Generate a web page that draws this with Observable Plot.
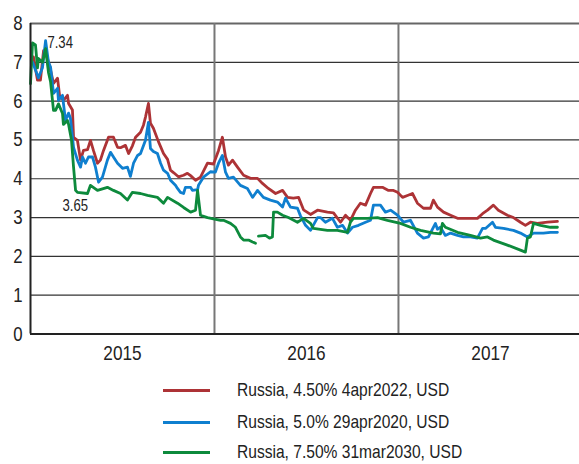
<!DOCTYPE html>
<html><head><meta charset="utf-8">
<script src="https://cdn.jsdelivr.net/npm/d3@7"></script>
<script src="https://cdn.jsdelivr.net/npm/@observablehq/plot@0.6"></script>
<style>
body{margin:0;background:#fff;font-family:"Liberation Sans",Arial,sans-serif;}
#wrap{position:relative;width:579px;height:464px;overflow:hidden;}
.row{position:absolute;left:163px;height:24px;display:flex;align-items:center;font-size:19px;color:#222;white-space:nowrap;}
.sw{width:47px;height:3px;margin-right:27px;flex:none;}
.lt{display:inline-block;transform:scaleX(0.82);transform-origin:0 50%;}
</style></head><body><div id="wrap"><div id="chart"></div></div>
<script>
// Red: Russia, 4.50% 4apr2022, USD
const redYears=[2015.016,2015.038,2015.054,2015.071,2015.092,2015.109,2015.125,2015.147,2015.158,2015.179,2015.201,2015.207,2015.228,2015.234,2015.255,2015.272,2015.288,2015.310,2015.326,2015.342,2015.364,2015.380,2015.397,2015.424,2015.451,2015.473,2015.489,2015.516,2015.533,2015.554,2015.571,2015.598,2015.614,2015.625,2015.641,2015.652,2015.668,2015.696,2015.723,2015.745,2015.761,2015.777,2015.804,2015.832,2015.853,2015.870,2015.897,2015.924,2015.962,2015.995,2016.022,2016.043,2016.060,2016.076,2016.098,2016.125,2016.158,2016.196,2016.234,2016.261,2016.293,2016.332,2016.370,2016.397,2016.429,2016.457,2016.484,2016.522,2016.560,2016.614,2016.647,2016.685,2016.712,2016.739,2016.766,2016.793,2016.821,2016.848,2016.864,2016.913,2016.946,2016.973,2016.995,2017.022,2017.049,2017.076,2017.103,2017.136,2017.174,2017.190,2017.212,2017.245,2017.283,2017.321,2017.353,2017.391,2017.429,2017.457,2017.484,2017.516,2017.543,2017.592,2017.625,2017.663,2017.690,2017.717,2017.755,2017.810,2017.864];
const redValues=[7.14,6.54,6.54,7.30,7.10,6.80,6.46,6.59,6.15,6.02,6.15,5.94,5.77,5.07,4.99,4.48,4.73,4.75,4.99,4.73,4.40,4.48,4.73,5.07,5.07,4.81,4.80,4.86,4.65,4.85,5.07,5.20,5.38,5.59,5.94,5.43,5.30,4.95,4.65,4.50,4.22,4.16,4.05,4.09,4.14,4.08,3.96,4.04,4.40,4.38,4.73,5.07,4.56,4.35,4.48,4.30,4.09,4.01,4.01,3.88,3.75,3.62,3.70,3.52,3.50,3.52,3.20,3.08,3.19,3.14,3.12,2.88,3.06,2.93,3.19,3.37,3.32,3.62,3.78,3.78,3.70,3.70,3.65,3.52,3.57,3.62,3.37,3.24,3.24,3.45,3.27,3.14,3.06,2.98,2.98,2.98,2.98,3.10,3.19,3.32,3.19,3.06,3.00,2.88,2.80,2.88,2.85,2.88,2.90];
// Blue: Russia, 5.0% 29apr2020, USD
const blueYears=[2015.011,2015.043,2015.065,2015.082,2015.098,2015.109,2015.125,2015.147,2015.152,2015.174,2015.190,2015.207,2015.217,2015.234,2015.255,2015.272,2015.283,2015.299,2015.315,2015.337,2015.353,2015.370,2015.391,2015.418,2015.435,2015.451,2015.473,2015.500,2015.527,2015.543,2015.560,2015.582,2015.598,2015.625,2015.641,2015.652,2015.668,2015.690,2015.707,2015.723,2015.745,2015.761,2015.788,2015.799,2015.815,2015.832,2015.842,2015.870,2015.880,2015.908,2015.913,2015.940,2015.978,2016.005,2016.022,2016.043,2016.060,2016.076,2016.103,2016.141,2016.179,2016.207,2016.234,2016.266,2016.304,2016.342,2016.370,2016.386,2016.413,2016.451,2016.467,2016.495,2016.522,2016.560,2016.576,2016.603,2016.641,2016.668,2016.696,2016.723,2016.750,2016.783,2016.821,2016.848,2016.864,2016.902,2016.929,2016.957,2016.995,2017.027,2017.065,2017.103,2017.136,2017.163,2017.201,2017.212,2017.228,2017.255,2017.283,2017.321,2017.353,2017.391,2017.429,2017.457,2017.473,2017.511,2017.527,2017.571,2017.625,2017.663,2017.701,2017.734,2017.788,2017.826,2017.864];
const blueValues=[7.00,6.60,6.86,7.56,7.00,6.88,6.20,6.33,6.02,6.15,5.50,5.69,5.56,4.81,4.48,4.30,4.56,4.40,4.56,4.56,4.30,3.91,4.04,4.48,4.68,4.56,4.40,4.27,4.30,4.06,4.40,4.60,4.65,4.99,5.45,4.78,4.70,4.65,4.40,4.22,4.14,3.96,3.83,3.75,3.65,3.62,3.78,3.78,3.70,3.72,3.83,4.04,4.18,4.17,4.40,4.60,4.17,4.01,4.04,3.83,3.75,3.52,3.70,3.52,3.45,3.40,3.27,3.50,3.27,3.24,3.05,2.80,2.67,3.00,3.00,2.88,2.98,2.75,2.80,2.60,2.75,2.80,2.88,2.93,3.32,3.32,3.14,3.19,3.06,2.88,2.93,2.60,2.47,2.50,2.85,2.70,2.75,2.54,2.60,2.54,2.50,2.50,2.47,2.72,2.72,2.88,2.75,2.72,2.67,2.60,2.50,2.60,2.60,2.62,2.62];
// Green: Russia, 7.50% 31mar2030, USD (null = gap in the series)
const greenYears=[2015.000,2015.011,2015.027,2015.038,2015.043,2015.065,2015.082,2015.098,2015.109,2015.125,2015.136,2015.152,2015.174,2015.179,2015.201,2015.207,2015.223,2015.234,2015.245,2015.255,2015.310,2015.326,2015.364,2015.418,2015.451,2015.489,2015.527,2015.554,2015.598,2015.636,2015.690,2015.723,2015.745,2015.799,2015.832,2015.870,2015.897,2015.908,2015.924,2015.962,2016.033,2016.049,2016.087,2016.114,2016.141,2016.158,2016.185,2016.207,2016.223,2016.230,2016.239,2016.277,2016.299,2016.315,2016.321,2016.342,2016.370,2016.402,2016.451,2016.484,2016.522,2016.538,2016.614,2016.668,2016.723,2016.739,2016.755,2016.832,2016.886,2016.940,2017.011,2017.065,2017.120,2017.190,2017.228,2017.239,2017.255,2017.321,2017.391,2017.446,2017.484,2017.516,2017.592,2017.663,2017.690,2017.701,2017.717,2017.734,2017.772,2017.826,2017.864];
const greenValues=[6.45,7.50,7.45,6.86,7.10,7.00,7.35,6.73,6.50,5.76,5.76,5.93,5.68,5.40,5.50,5.40,4.99,4.30,3.70,3.65,3.62,3.83,3.70,3.78,3.70,3.62,3.45,3.65,3.62,3.57,3.52,3.37,3.52,3.37,3.26,3.14,3.19,3.70,3.06,3.00,2.93,2.93,2.85,2.75,2.50,2.42,2.42,2.37,2.34,null,2.52,2.54,2.47,2.50,3.14,3.14,3.06,3.00,2.88,2.98,2.85,2.72,2.67,2.67,2.62,2.88,2.98,2.98,3.00,2.93,2.85,2.75,2.67,2.60,2.58,2.85,2.75,2.62,2.54,2.47,2.50,2.42,2.29,2.16,2.11,2.47,2.50,2.85,2.80,2.75,2.75];

const seriesNames=["Russia, 4.50% 4apr2022, USD","Russia, 5.0% 29apr2020, USD","Russia, 7.50% 31mar2030, USD"];
const seriesColors=["#ad3336","#0f7fcf","#0d8a3c"];
const yTicks=[0,1,2,3,4,5,6,7,8];
const yearLabels=[2015,2016,2017];
const yearBoundaries=[2016,2017];
const noteText=["7.34","3.65"];
const noteX=[2015.092,2015.174];
const noteY=[7.50,3.30];

const seriesYears=[redYears,blueYears,greenYears];
const seriesValues=[redValues,blueValues,greenValues];
const rows=[];
seriesNames.forEach((name,s)=>{
  seriesYears[s].forEach((x,i)=>rows.push({x,y:seriesValues[s][i],name}));
});
const notes=noteText.map((t,i)=>({t,x:noteX[i],y:noteY[i]}));

const font='"Liberation Sans",Arial,sans-serif';
const chart=Plot.plot({
  width:579,height:370,
  marginLeft:30,marginRight:0,marginTop:23,marginBottom:36.5,
  style:{fontFamily:font,fontSize:"20px",color:"#222",background:"#fff"},
  x:{type:"linear",domain:[2015,2017.984]},
  y:{domain:[0,8]},
  color:{domain:seriesNames,range:seriesColors},
  marks:[
    Plot.ruleY(yTicks.filter(d=>d>0&&d<8),{stroke:"#333",strokeWidth:1.2}),
    Plot.ruleY([8],{stroke:"#666",strokeWidth:1.8}),
    Plot.ruleX(yearBoundaries,{stroke:"#777",strokeWidth:2}),
    Plot.line(rows,{x:"x",y:"y",z:"name",stroke:"name",strokeWidth:2.8,strokeLinejoin:"round",strokeLinecap:"round"}),
    Plot.ruleX([2015],{stroke:"#222",strokeWidth:2}),
    Plot.ruleY([0],{stroke:"#222",strokeWidth:2}),
    Plot.axisY({ticks:yTicks,tickSize:0,tickPadding:8,fontSize:20.5,label:null,fill:"#222"}),
    Plot.axisX({ticks:yearLabels.map(y=>y+0.5),tickFormat:d=>String(Math.floor(d)),tickSize:0,tickPadding:11,fontSize:21,label:null,fill:"#222"}),
    Plot.text(notes,{x:"x",y:"y",text:"t",textAnchor:"start",fontSize:16,fill:"#222"})
  ]
});
// narrow (condensed) lettering: squeeze each label horizontally about its anchor
chart.querySelectorAll("text").forEach(t=>{
  const x=+(t.getAttribute("x")||0);
  const tr=t.getAttribute("transform")||"";
  t.setAttribute("transform",`${tr} translate(${x},0) scale(0.82,1) translate(${-x},0)`);
});
document.getElementById("chart").appendChild(chart);
const wrap=document.getElementById("wrap");
const rowTops=[390,422,452];
seriesNames.forEach((n,i)=>{
  const r=document.createElement("div");
  r.className="row";
  r.style.top=(rowTops[i]-12)+"px";
  const sw=document.createElement("span");
  sw.className="sw";sw.style.background=seriesColors[i];
  const t=document.createElement("span");t.className="lt";t.textContent=n;
  r.appendChild(sw);r.appendChild(t);wrap.appendChild(r);
});
</script></body></html>
